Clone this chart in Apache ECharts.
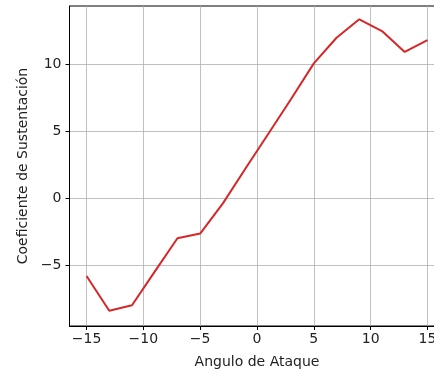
<!DOCTYPE html>
<html>
<head>
<meta charset="utf-8">
<script src="https://cdn.jsdelivr.net/npm/echarts@6/dist/echarts.min.js"></script>
<style>
  html, body { margin: 0; padding: 0; background: #ffffff; }
  #chart { width: 434px; height: 377px; }
</style>
</head>
<body>
<div id="chart"></div>
<script>
// Angle of attack (degrees) and lift coefficient samples
const angulos = [-15, -13, -11, -9, -7, -5, -3, -1, 1, 3, 5, 7, 9, 11, 13, 15];
const coeficientes = [-5.82, -8.41, -8.0, -5.49, -3.0, -2.65, -0.4, 2.22, 4.8, 7.39, 10.05, 11.96, 13.34, 12.46, 10.9, 11.79];

// Tick positions shown on each axis
const ticksX = [-15, -10, -5, 0, 5, 10, 15];
const ticksY = [-5, 0, 5, 10];

const FONT = '"DejaVu Sans", sans-serif';
const fmt = v => (v < 0 ? '\u2212' + Math.abs(v) : String(v));

const chart = echarts.init(document.getElementById('chart'), null, { renderer: 'canvas' });

const gridLine = { show: true, lineStyle: { color: '#b0b0b0', width: 0.8 } };

chart.setOption({
  animation: false,
  backgroundColor: '#ffffff',
  grid: {
    left: 69.5,
    top: 6,
    width: 375,
    height: 320,
    outerBoundsMode: 'none',
    show: true,
    borderColor: '#000000',
    borderWidth: 1,
    backgroundColor: '#ffffff'
  },
  xAxis: {
    type: 'value',
    min: -16.5,
    max: 16.5,
    name: 'Angulo de Ataque',
    nameLocation: 'middle',
    nameGap: 29,
    nameTextStyle: { fontFamily: FONT, fontSize: 14, color: '#222222' },
    axisLine: { show: true, onZero: false, lineStyle: { color: '#000000', width: 1 } },
    axisTick: { show: true, inside: false, length: 4, lineStyle: { color: '#000000' }, customValues: ticksX },
    axisLabel: { fontFamily: FONT, fontSize: 14, color: '#222222', margin: 6, formatter: fmt, customValues: ticksX, showMinLabel: true, showMaxLabel: true },
    splitLine: gridLine
  },
  yAxis: {
    type: 'value',
    min: -9.55,
    max: 14.33,
    name: 'Coeficiente de Sustentación',
    nameLocation: 'middle',
    nameGap: 39,
    nameTextStyle: { fontFamily: FONT, fontSize: 14, color: '#222222' },
    axisLine: { show: true, onZero: false, lineStyle: { color: '#000000', width: 1 } },
    axisTick: { show: true, inside: false, length: 4, lineStyle: { color: '#000000' }, customValues: ticksY },
    axisLabel: { fontFamily: FONT, fontSize: 14, color: '#222222', margin: 8, formatter: fmt, customValues: ticksY },
    splitLine: gridLine
  },
  series: [{
    type: 'line',
    data: angulos.map((a, i) => [a, coeficientes[i]]),
    showSymbol: false,
    lineStyle: { color: '#d62728', width: 2 },
    itemStyle: { color: '#d62728' }
  }]
});
</script>
</body>
</html>
